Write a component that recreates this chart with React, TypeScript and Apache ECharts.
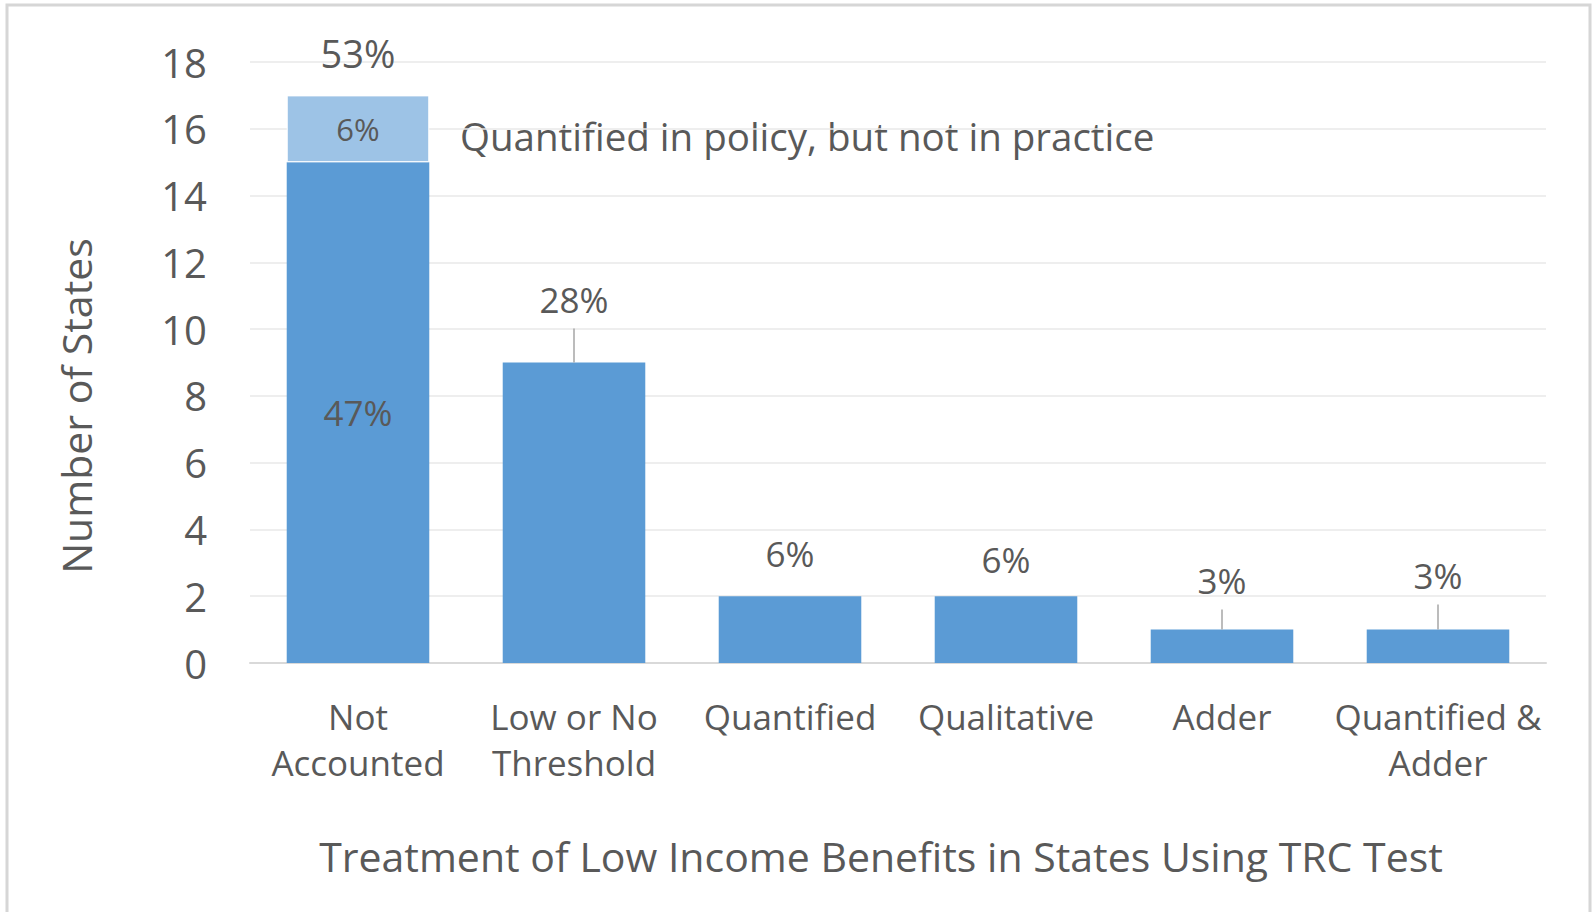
import React, { useEffect, useRef } from "react";
import * as echarts from "echarts";

// ---- data ----
const categories = [
  "Not\nAccounted",
  "Low or No\nThreshold",
  "Quantified",
  "Qualitative",
  "Adder",
  "Quantified &\nAdder",
];
const baseCounts = [15, 9, 2, 2, 1, 1];
const policyOnlyCounts = [2, 0, 0, 0, 0, 0];
const topLabels = ["53%", "28%", "6%", "6%", "3%", "3%"];
const baseInsideLabel = "47%";
const policyInsideLabel = "6%";
const policyNote = "Quantified in policy, but not in practice";
const yTicks = [0, 2, 4, 6, 8, 10, 12, 14, 16, 18];
const yAxisTitle = "Number of States";
const xAxisTitle = "Treatment of Low Income Benefits in States Using TRC Test";

// ---- layout / style (not data) ----
const labelLift = [42, 63, 43, 37, 49, 54];
const hasLeader = [false, true, false, false, true, true];
const topLabelSize = [38, 35, 35, 35, 35, 35];
const FONT = "'Open Sans', 'Noto Sans', sans-serif";
const TEXT = "#595959";
const DARK = "#5B9BD5";
const LIGHT = "#9DC3E6";

export default function App() {
  const ref = useRef<HTMLDivElement>(null);

  useEffect(() => {
    if (!ref.current) return;
    const chart = echarts.init(ref.current, undefined, { renderer: "svg" });
    const totals = baseCounts.map((v, i) => v + (policyOnlyCounts[i] || 0));

    chart.setOption({
      animation: false,
      backgroundColor: "#ffffff",
      grid: { left: 250, right: 46, top: 62, bottom: 249, containLabel: false },
      xAxis: {
        type: "category",
        data: categories,
        axisTick: { show: false },
        axisLine: { lineStyle: { color: "#d9d9d9", width: 2 } },
        axisLabel: {
          color: TEXT,
          fontFamily: FONT,
          fontSize: 35,
          lineHeight: 46,
          margin: 30,
          interval: 0,
        },
      },
      yAxis: {
        type: "value",
        min: yTicks[0],
        max: yTicks[yTicks.length - 1],
        interval: yTicks[1] - yTicks[0],
        axisLine: { show: false },
        axisTick: { show: false },
        splitLine: { lineStyle: { color: "#e9e9e9", width: 1.5 } },
        axisLabel: {
          color: TEXT,
          fontFamily: FONT,
          fontSize: 40,
          margin: 43,
        },
      },
      series: [
        {
          name: "Not accounted",
          type: "bar",
          stack: "total",
          data: baseCounts,
          barCategoryGap: "34%",
          itemStyle: { color: DARK },
          label: {
            show: true,
            position: "inside",
            color: TEXT,
            fontFamily: FONT,
            fontSize: 35,
            formatter: (p: any) => (p.dataIndex === 0 ? baseInsideLabel : ""),
          },
        },
        {
          name: "Quantified in policy only",
          type: "bar",
          stack: "total",
          data: policyOnlyCounts.map((v) => (v ? v : null)),
          itemStyle: { color: LIGHT, borderColor: "#ffffff", borderWidth: 1 },
          label: {
            show: true,
            position: "inside",
            color: TEXT,
            fontFamily: FONT,
            fontSize: 31,
            formatter: () => policyInsideLabel,
          },
        },
        {
          name: "labels",
          type: "custom",
          data: totals.map((t, i) => [i, t]),
          encode: { x: 0, y: 1 },
          silent: true,
          z: 10,
          renderItem: (params: any, api: any) => {
            const i = params.dataIndex;
            const pt = api.coord([api.value(0), api.value(1)]);
            const cy = pt[1] - labelLift[i];
            const children: any[] = [
              {
                type: "text",
                x: pt[0],
                y: cy,
                style: {
                  text: topLabels[i],
                  fill: TEXT,
                  fontFamily: FONT,
                  fontSize: topLabelSize[i],
                  align: "center",
                  verticalAlign: "middle",
                },
              },
            ];
            if (hasLeader[i]) {
              children.push({
                type: "line",
                shape: { x1: pt[0], y1: cy + 29, x2: pt[0], y2: pt[1] },
                style: { stroke: "#a6a6a6", lineWidth: 1.5 },
              });
            }
            return { type: "group", children };
          },
        },
      ],
      graphic: [
        {
          type: "rect",
          shape: { x: 7, y: 5, width: 1583, height: 912 },
          style: { fill: "none", stroke: "#d6d6d6", lineWidth: 3 },
          silent: true,
        },
        {
          type: "text",
          x: 460,
          y: 136,
          style: {
            text: policyNote,
            fill: TEXT,
            fontFamily: FONT,
            fontSize: 38.5,
            align: "left",
            verticalAlign: "middle",
          },
        },
        {
          type: "text",
          x: 76,
          y: 406,
          rotation: Math.PI / 2,
          style: {
            text: yAxisTitle,
            fill: TEXT,
            fontFamily: FONT,
            fontSize: 41,
            align: "center",
            verticalAlign: "middle",
          },
        },
        {
          type: "text",
          x: 881,
          y: 856,
          style: {
            text: xAxisTitle,
            fill: TEXT,
            fontFamily: FONT,
            fontSize: 41,
            align: "center",
            verticalAlign: "middle",
          },
        },
      ],
    });

    return () => chart.dispose();
  }, []);

  return (
    <div
      ref={ref}
      style={{ position: "absolute", left: 0, top: 0, width: 1592, height: 912 }}
    />
  );
}
